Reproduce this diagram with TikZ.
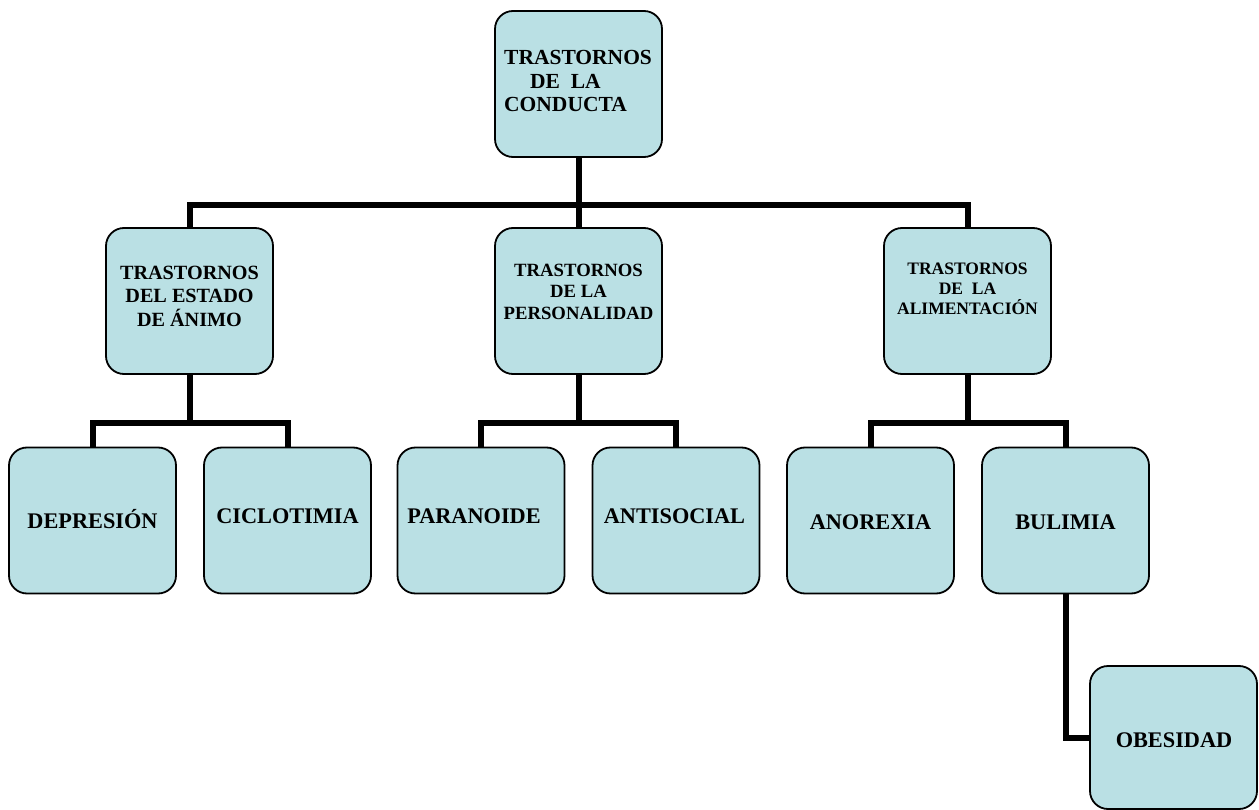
\documentclass[tikz,border=0pt]{standalone}
\usepackage{fontspec}
\setmainfont{Liberation Serif}
\definecolor{boxfill}{RGB}{186,224,228}
\begin{document}
\begin{tikzpicture}[x=1pt,y=-1pt,
  box/.style={draw=black, line width=1.8pt, fill=boxfill, rounded corners=18pt,
    minimum width=167pt, minimum height=146pt, inner sep=0pt},
  conn/.style={line width=6pt, line join=miter},
  txt/.style={inner sep=0pt},
  big/.style={font=\bfseries\fontsize{22.3}{26}\selectfont, anchor=base},
]
\useasboundingbox (0,0) rectangle (1259,810);
% boxes
\node[box] (top) at (578.5,84) {};
\node[box] (m1) at (189.5,301) {};
\node[box] (m2) at (578.5,301) {};
\node[box] (m3) at (967.5,301) {};
\node[box] (dep) at (92.5,520.5) {};
\node[box] (cic) at (287.5,520.5) {};
\node[box] (par) at (481,520.5) {};
\node[box] (ant) at (676,520.5) {};
\node[box] (ano) at (870.5,520.5) {};
\node[box] (bul) at (1065.5,520.5) {};
\node[box, minimum height=143pt] (obe) at (1173.5,737.5) {};
% junctions
\coordinate (j0) at (578.5,205);
\coordinate (j1) at (189.5,423);
\coordinate (j2) at (578.5,423);
\coordinate (j3) at (967.5,423);
% connectors
\draw[conn] (top.south) -- (m2.north);
\draw[conn] (m1.north) |- (j0) -| (m3.north);
\draw[conn] (m1.south) -- (j1);
\draw[conn] (dep.north) |- (j1) -| (cic.north);
\draw[conn] (m2.south) -- (j2);
\draw[conn] (par.north) |- (j2) -| (ant.north);
\draw[conn] (m3.south) -- (j3);
\draw[conn] (ano.north) |- (j3) -| (bul.north);
\draw[conn] (bul.south) |- (obe.west);
% texts
\node[txt, align=left, anchor=west, font=\bfseries\fontsize{21.5}{23.5}\selectfont] (t0) at (504,81)
  {TRASTORNOS\\\hspace*{26pt}DE~~LA\\CONDUCTA};
\node[txt, align=center, font=\bfseries\fontsize{20.2}{23.5}\selectfont] (t1) at (189.5,296)
  {TRASTORNOS\\DEL ESTADO\\DE ÁNIMO};
\node[txt, align=center, font=\bfseries\fontsize{18.7}{21.5}\selectfont] (t2) at (578.5,291.5)
  {TRASTORNOS\\DE LA\\PERSONALIDAD};
\node[txt, align=center, font=\bfseries\fontsize{17.5}{20}\selectfont] (t3) at (967.5,289)
  {TRASTORNOS\\DE~~LA\\ALIMENTACIÓN};
\node[txt, big] (tdep) at (92.5,528) {DEPRESIÓN};
\node[txt, big] (tcic) at (287.5,523) {CICLOTIMIA};
\node[txt, big] (tpar) at (474,523) {PARANOIDE};
\node[txt, big] (tant) at (674.5,523) {ANTISOCIAL};
\node[txt, big] (tano) at (870.5,529) {ANOREXIA};
\node[txt, big] (tbul) at (1065.5,529) {BULIMIA};
\node[txt, big] (tobe) at (1174,747) {OBESIDAD};
\end{tikzpicture}
\end{document}
